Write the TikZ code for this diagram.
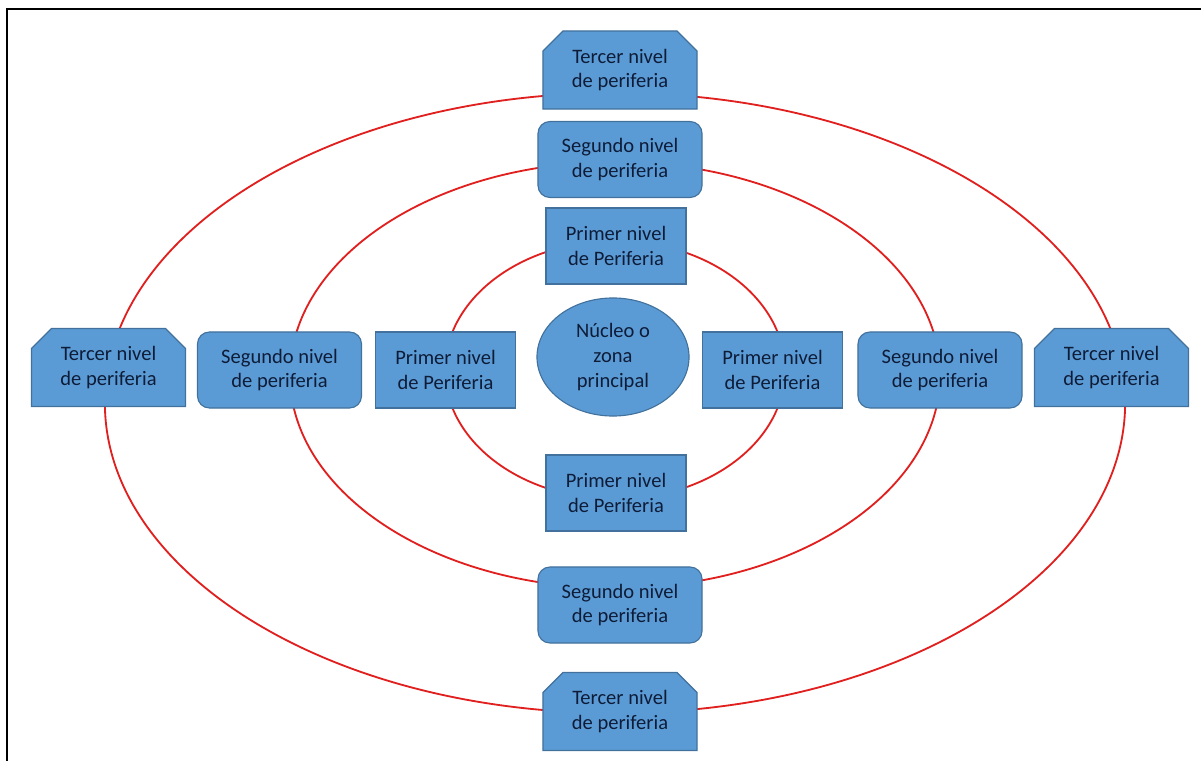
\documentclass[tikz,border=0pt]{standalone}
\usepackage{fontspec}
\setmainfont{Carlito}
\usepackage{tikz}
\usetikzlibrary{shapes.misc, shapes.geometric}
\definecolor{boxfill}{HTML}{5B9BD5}
\definecolor{boxline}{HTML}{41719C}
\definecolor{ring}{HTML}{E0201E}
\definecolor{boxtext}{HTML}{0E1C38}
\tikzset{
  level/.style={fill=boxfill, draw=boxline, line width=0.8pt, text=boxtext,
    align=center, font=\fontsize{14.6}{17.5}\selectfont, inner sep=0pt},
  levelone/.style={level, rectangle, minimum width=3.5cm, minimum height=1.9cm},
  leveltwo/.style={level, rectangle, rounded corners=0.3cm, minimum width=4.1cm, minimum height=1.9cm},
  levelthree/.style={level, chamfered rectangle, chamfered rectangle corners={north west, north east},
    chamfered rectangle xsep=0.25cm, chamfered rectangle ysep=0.25cm,
    minimum width=3.85cm, minimum height=1.95cm},
  orbit/.style={draw=ring, line width=1.3pt},
}

\begin{document}
\begin{tikzpicture}[x=0.025cm, y=-0.025cm]
\useasboundingbox (0,0) rectangle (1201,761);
% frame
\draw[line width=2.1pt] (7,761) -- (7,9) -- (1201,9);
% rings
\foreach \cy/\rx/\ry in {370/4.25/3.225, 375/8.125/5.325, 403/12.75/7.75}
  \draw[orbit] (615,\cy) ellipse [x radius=\rx cm, y radius=\ry cm];
% core
\node[level, ellipse, minimum width=3.8cm, minimum height=2.95cm] (core) at (613,357) {Núcleo o\\zona\\principal};
% first level
\node[levelone] (top1) at (616,246) {Primer nivel\\de Periferia};
\node[levelone] (bot1) at (616,493) {Primer nivel\\de Periferia};
\node[levelone] (left1) at (445.5,370) {Primer nivel\\de Periferia};
\node[levelone] (right1) at (772.5,370) {Primer nivel\\de Periferia};
% second level
\node[leveltwo] (top2) at (620,159.5) {Segundo nivel\\de periferia};
\node[leveltwo] (bot2) at (620,605) {Segundo nivel\\de periferia};
\node[leveltwo] (left2) at (279.5,370) {Segundo nivel\\de periferia};
\node[leveltwo] (right2) at (940,370) {Segundo nivel\\de periferia};
% third level
\node[levelthree] (top3) at (620,70) {Tercer nivel\\de periferia};
\node[levelthree] (bot3) at (620,711.5) {Tercer nivel\\de periferia};
\node[levelthree] (left3) at (108.5,367.5) {Tercer nivel\\de periferia};
\node[levelthree] (right3) at (1111.5,367.5) {Tercer nivel\\de periferia};
\end{tikzpicture}
\end{document}
